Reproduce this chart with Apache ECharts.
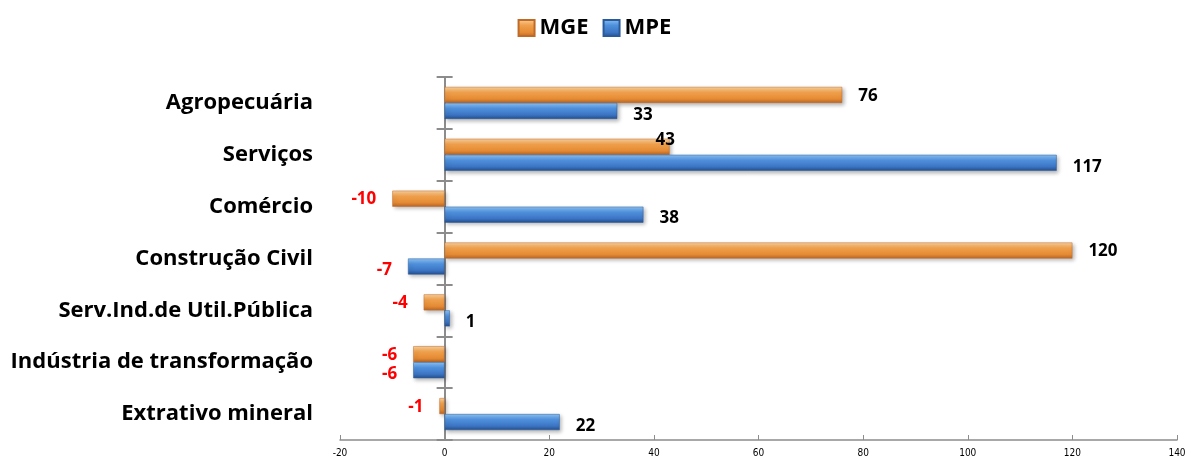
<!DOCTYPE html>
<html>
<head>
<meta charset="utf-8">
<script src="https://cdn.jsdelivr.net/npm/echarts@6/dist/echarts.min.js"></script>
<style>
  html, body { margin: 0; padding: 0; background: #fff; }
  #chart { width: 1189px; height: 462px; }
</style>
</head>
<body>
<div id="chart"></div>
<script>
// categories from bottom to top (category axis starts at the bottom)
var categories = [
  "Extrativo mineral",
  "Indústria de transformação",
  "Serv.Ind.de Util.Pública",
  "Construção Civil",
  "Comércio",
  "Serviços",
  "Agropecuária"
];
var mgeValues = [-1, -6, -4, 120, -10, 43, 76];
var mpeValues = [22, -6, 1, -7, 38, 117, 33];
var xTicks = [-20, 0, 20, 40, 60, 80, 100, 120, 140];

var gridLeft = 340, gridRight = 12;
var gridWidth = 1189 - gridLeft - gridRight;
var xMin = xTicks[0], xMax = xTicks[xTicks.length - 1];
// distance from grid left edge to the zero line
var zeroShift = gridWidth * (0 - xMin) / (xMax - xMin);

var orangeFill = new echarts.graphic.LinearGradient(0, 0, 0, 1, [
  { offset: 0, color: "#fbd29c" },
  { offset: 0.35, color: "#f0a04c" },
  { offset: 0.75, color: "#e48a33" },
  { offset: 1, color: "#b8662a" }
]);
var blueFill = new echarts.graphic.LinearGradient(0, 0, 0, 1, [
  { offset: 0, color: "#8cc4f7" },
  { offset: 0.35, color: "#4f90dc" },
  { offset: 0.75, color: "#3b74c2" },
  { offset: 1, color: "#254f8c" }
]);

function makeData(values) {
  return values.map(function (v) {
    return {
      value: v,
      label: {
        position: v < 0 ? "left" : "right",
        color: v < 0 ? "#ff0000" : "#000"
      }
    };
  });
}

var mgeData = makeData(mgeValues);
var mpeData = makeData(mpeValues);
// Serviços MGE label sits above the bar end
mgeData[5].label.offset = [-30, -7];

var myChart = echarts.init(document.getElementById("chart"));
var option = {
  animation: false,
  textStyle: { fontFamily: "Open Sans, Liberation Sans, sans-serif" },
  legend: {
    data: ["MGE", "MPE"],
    top: 12,
    left: "center",
    itemWidth: 16,
    itemHeight: 16,
    itemGap: 14,
    icon: "rect",
    textStyle: { fontSize: 22, fontWeight: "bold", color: "#000" }
  },
  grid: {
    left: gridLeft,
    right: gridRight,
    top: 77,
    bottom: 22,
    containLabel: false,
    outerBoundsMode: "none"
  },
  xAxis: {
    type: "value",
    min: xMin,
    max: xMax,
    interval: 20,
    axisLine: { show: true, lineStyle: { color: "#8c8c8c", width: 1.5 } },
    axisTick: { show: true, inside: true, length: 5, lineStyle: { color: "#8c8c8c" } },
    axisLabel: { fontSize: 10, color: "#000", margin: 8, fontFamily: "DejaVu Sans Condensed, sans-serif" },
    splitLine: { show: false }
  },
  yAxis: [
    {
      type: "category",
      data: categories,
      axisLine: { show: true, onZero: true, lineStyle: { color: "#8c8c8c", width: 2 } },
      axisTick: { show: true, length: 8, lineStyle: { color: "#8c8c8c", width: 2 } },
      axisLabel: { fontSize: 22, fontWeight: "bold", color: "#000", margin: 27, padding: [10, 0, 0, 0] },
      splitLine: { show: false }
    },
    {
      type: "category",
      data: categories,
      position: "left",
      offset: -zeroShift,
      axisLine: { show: false, onZero: false },
      axisTick: { show: true, inside: true, length: 8, lineStyle: { color: "#8c8c8c", width: 2 } },
      axisLabel: { show: false },
      splitLine: { show: false }
    }
  ],
  series: [
    {
      name: "MGE",
      type: "bar",
      yAxisIndex: 0,
      data: mgeData,
      barWidth: 16,
      barGap: "0%",
      itemStyle: {
        color: orangeFill,
        borderColor: "#c06a28",
        borderWidth: 0.5,
        shadowColor: "rgba(0,0,0,0.3)",
        shadowBlur: 4,
        shadowOffsetX: 2,
        shadowOffsetY: 2
      },
      label: {
        show: true,
        distance: 16,
        fontSize: 17,
        fontWeight: "bold",
        offset: [0, 1]
      }
    },
    {
      name: "MPE",
      type: "bar",
      yAxisIndex: 0,
      data: mpeData,
      barWidth: 16,
      barGap: "0%",
      itemStyle: {
        color: blueFill,
        borderColor: "#2a5a9a",
        borderWidth: 0.5,
        shadowColor: "rgba(0,0,0,0.3)",
        shadowBlur: 4,
        shadowOffsetX: 2,
        shadowOffsetY: 2
      },
      label: {
        show: true,
        distance: 16,
        fontSize: 17,
        fontWeight: "bold",
        offset: [0, 4]
      }
    }
  ]
};
myChart.setOption(option);
</script>
</body>
</html>
